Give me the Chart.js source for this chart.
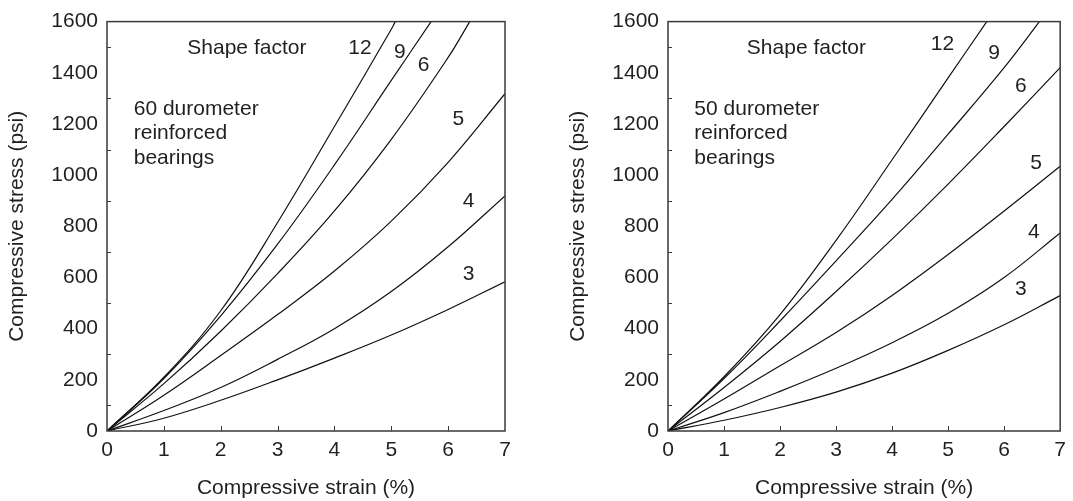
<!DOCTYPE html>
<html>
<head>
<meta charset="utf-8">
<script src="https://cdn.jsdelivr.net/npm/chart.js@4.4.0/dist/chart.umd.min.js"></script>
<style>
html, body { margin: 0; padding: 0; background: #fff; }
#wrap { position: relative; width: 1073px; height: 501px; }
.panel { position: absolute; top: 0; }
</style>
</head>
<body>
<div id="wrap">
    <div class="panel" style="left:0"><canvas id="left" width="561" height="501"></canvas></div>
    <div class="panel" style="left:561px"><canvas id="right" width="512" height="501"></canvas></div>
</div>
<script>
// 60 durometer reinforced bearings
var x60_3 = [0, 1, 2, 3, 4, 5, 6, 7];
var y60_3 = [0, 50, 120, 200, 285, 375, 475, 583];
var x60_4 = [0, 1, 2, 3, 4, 5, 6, 7];
var y60_4 = [0, 80, 170, 280, 400, 545, 720, 919];
var x60_5 = [0, 1, 2, 3, 4, 5, 6, 7];
var y60_5 = [0, 140, 295, 455, 625, 820, 1050, 1318];
var x60_6 = [0, 1, 2, 3, 4, 5, 6, 6.38];
var y60_6 = [0, 185, 390, 615, 860, 1140, 1460, 1600];
var x60_9 = [0, 1, 2, 3, 4, 5, 5.7];
var y60_9 = [0, 205, 450, 730, 1040, 1370, 1600];
var x60_12 = [0, 1, 2, 3, 4, 5, 5.07];
var y60_12 = [0, 210, 470, 815, 1190, 1570, 1600];

// 50 durometer reinforced bearings
var x50_3 = [0, 1, 2, 3, 4, 5, 6, 7];
var y50_3 = [0, 42, 92, 152, 226, 315, 415, 529];
var x50_4 = [0, 1, 2, 3, 4, 5, 6, 7];
var y50_4 = [0, 72, 155, 245, 345, 460, 600, 774];
var x50_5 = [0, 1, 2, 3, 4, 5, 6, 7];
var y50_5 = [0, 125, 255, 385, 530, 690, 860, 1035];
var x50_6 = [0, 1, 2, 3, 4, 5, 6, 7];
var y50_6 = [0, 170, 350, 545, 750, 965, 1190, 1420];
var x50_9 = [0, 1, 2, 3, 4, 5, 6, 6.63];
var y50_9 = [0, 205, 430, 665, 905, 1160, 1420, 1600];
var x50_12 = [0, 1, 2, 3, 4, 5, 5.69];
var y50_12 = [0, 212, 455, 745, 1060, 1380, 1600];

var xTickMarks = [1, 2, 3, 4, 5, 6];
var yTickMarks = [100, 300, 500, 700, 900, 1100, 1300, 1500];

var FONT = '"Liberation Sans", Arial, Helvetica, sans-serif';
var INK = "#231f20";

var notes60 = [
    { text: "Shape factor", x: 2.46, y: 1497 },
    { text: "12", x: 4.45, y: 1497 },
    { text: "9", x: 5.15, y: 1482 },
    { text: "6", x: 5.57, y: 1430 },
    { text: "5", x: 6.18, y: 1218 },
    { text: "4", x: 6.36, y: 898 },
    { text: "3", x: 6.36, y: 614 },
    { text: "60 durometer", x: 0.47, y: 1257, align: "left" },
    { text: "reinforced", x: 0.47, y: 1162, align: "left" },
    { text: "bearings", x: 0.47, y: 1066, align: "left" }
];

var notes50 = [
    { text: "Shape factor", x: 2.47, y: 1497 },
    { text: "12", x: 4.9, y: 1511 },
    { text: "9", x: 5.82, y: 1478 },
    { text: "6", x: 6.3, y: 1349 },
    { text: "5", x: 6.57, y: 1048 },
    { text: "4", x: 6.53, y: 778 },
    { text: "3", x: 6.3, y: 556 },
    { text: "50 durometer", x: 0.47, y: 1257, align: "left" },
    { text: "reinforced", x: 0.47, y: 1162, align: "left" },
    { text: "bearings", x: 0.47, y: 1066, align: "left" }
];

function pts(xs, ys) {
    var out = [];
    for (var i = 0; i < xs.length; i++) {
        out.push({ x: xs[i], y: ys[i] });
    }
    return out;
}

function curve(xs, ys) {
    return {
        data: pts(xs, ys),
        borderColor: "#111",
        borderWidth: 1.2,
        pointRadius: 0,
        fill: false,
        tension: 0.4
    };
}

var framePlugin = {
    id: "frame",
    afterDraw: function(chart) {
        var ctx = chart.ctx;
        var a = chart.chartArea;
        var xs = chart.scales.x;
        var ys = chart.scales.y;
        ctx.save();
        ctx.strokeStyle = "#3a3a3a";
        ctx.lineWidth = 1.5;
        ctx.strokeRect(a.left, a.top, a.right - a.left, a.bottom - a.top);

        ctx.lineWidth = 1;
        ctx.beginPath();
        xTickMarks.forEach(function(v) {
            var px = Math.round(xs.getPixelForValue(v)) + 0.5;
            ctx.moveTo(px, a.bottom);
            ctx.lineTo(px, a.bottom - 5);
        });
        yTickMarks.forEach(function(v) {
            var py = Math.round(ys.getPixelForValue(v)) + 0.5;
            ctx.moveTo(a.left, py);
            ctx.lineTo(a.left + 4, py);
        });
        ctx.stroke();

        var notes = chart.options.plugins.frame.notes || [];
        ctx.fillStyle = INK;
        ctx.font = "21px " + FONT;
        ctx.textBaseline = "middle";
        notes.forEach(function(n) {
            ctx.textAlign = n.align || "center";
            ctx.fillText(n.text, xs.getPixelForValue(n.x), ys.getPixelForValue(n.y));
        });
        ctx.restore();
    }
};

function makeChart(id, sets, notes, rightPad) {
    return new Chart(document.getElementById(id), {
        type: "line",
        data: { datasets: sets },
        options: {
            responsive: false,
            animation: false,
            layout: { padding: { top: 16, right: rightPad, bottom: 0, left: 0 } },
            plugins: {
                legend: { display: false },
                tooltip: { enabled: false },
                frame: { notes: notes }
            },
            scales: {
                x: {
                    type: "linear",
                    min: 0,
                    max: 7,
                    grid: { display: false, drawTicks: false },
                    border: { display: false },
                    ticks: {
                        stepSize: 1,
                        padding: 7,
                        color: INK,
                        font: { family: FONT, size: 21 },
                        callback: function(v) { return String(v); }
                    },
                    title: {
                        display: true,
                        text: "Compressive strain (%)",
                        color: INK,
                        font: { family: FONT, size: 21, lineHeight: 1.2 },
                        padding: { top: 0, bottom: 0 }
                    },
                    afterFit: function(scale) { scale.height = 70; }
                },
                y: {
                    min: 0,
                    max: 1600,
                    grid: { display: false, drawTicks: false },
                    border: { display: false },
                    ticks: {
                        stepSize: 200,
                        padding: 9,
                        color: INK,
                        font: { family: FONT, size: 21 },
                        callback: function(v) { return String(v); }
                    },
                    title: {
                        display: true,
                        text: "Compressive stress (psi)",
                        color: INK,
                        font: { family: FONT, size: 21, lineHeight: 1.2 },
                        padding: { top: 5, bottom: 0 }
                    },
                    afterFit: function(scale) { scale.width = 107; }
                }
            }
        },
        plugins: [framePlugin]
    });
}

makeChart("left", [
    curve(x60_3, y60_3),
    curve(x60_4, y60_4),
    curve(x60_5, y60_5),
    curve(x60_6, y60_6),
    curve(x60_9, y60_9),
    curve(x60_12, y60_12)
], notes60, 56);

makeChart("right", [
    curve(x50_3, y50_3),
    curve(x50_4, y50_4),
    curve(x50_5, y50_5),
    curve(x50_6, y50_6),
    curve(x50_9, y50_9),
    curve(x50_12, y50_12)
], notes50, 7);
</script>
</body>
</html>
